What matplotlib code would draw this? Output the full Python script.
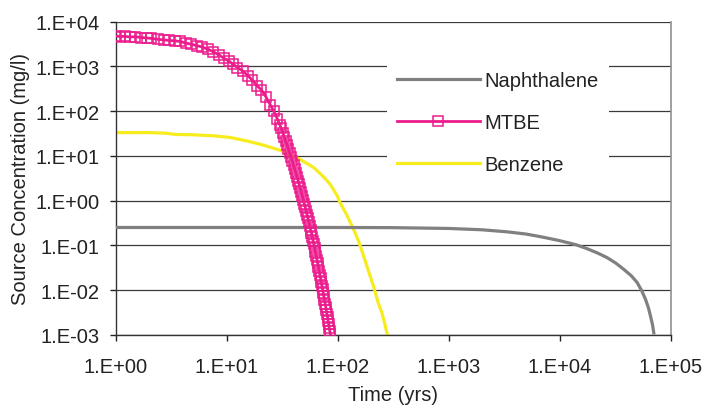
import numpy as np
import matplotlib as mpl
import matplotlib.pyplot as plt
from matplotlib.ticker import FixedLocator, FuncFormatter, NullLocator

# values (time in years, concentration in mg/l)
naph_t = [1, 10, 100, 300, 1000, 2000, 3357, 5000, 6700, 10000, 14000,
          17660, 22000, 26740, 32000, 37760, 44000, 49900, 55000, 59300,
          63000, 65800, 68500, 70450]
naph_c = [0.25, 0.25, 0.25, 0.248, 0.238, 0.222, 0.20, 0.178, 0.156,
          0.127, 0.103, 0.084, 0.067, 0.053, 0.040, 0.029, 0.021, 0.0147,
          0.0095, 0.0062, 0.0040, 0.0026, 0.0017, 0.0011]

mtbe_t = [1.0, 1.1, 1.2, 1.35, 1.5, 1.7, 1.9, 2.1, 2.4, 2.7, 3.0, 3.4,
          3.8, 4.3, 4.8, 5.4, 6.0, 6.8, 7.6, 8.5, 9.5, 10.5, 11.5, 12.5,
          14, 15.5, 17, 18.7, 20.5, 22.5, 24.6, 26.5, 28.5,
          30, 31, 32, 33, 34, 35, 36, 37, 38, 39, 40, 41, 42, 43, 44, 45,
          46, 47, 48, 49, 50, 51, 52, 53, 54, 55, 56, 57, 58, 59, 60, 61,
          62, 63, 64, 65, 66, 67, 68, 69, 70, 71, 72, 73, 74, 75, 76, 77,
          78, 79, 80, 81, 82, 83, 84, 85, 86]
mtbe_c = [4800, 4600, 4700, 4500, 4600, 4400, 4300, 4200, 4000, 3900,
          3800, 3700, 3600, 3300, 3100, 2900, 2700, 2400, 2100, 1800,
          1500, 1300, 1100, 940, 780, 620, 490, 370, 300, 210, 140, 100,
          68,
          50, 41, 33, 26, 21, 17.4, 14.1, 11.5, 9.3, 7.6, 6.2, 5.0, 4.2,
          3.4, 2.8, 2.3, 1.86, 1.55, 1.26, 1.05, 0.85, 0.71, 0.59, 0.48,
          0.40, 0.33, 0.27, 0.22, 0.19, 0.15, 0.126, 0.105, 0.085, 0.071,
          0.059, 0.048, 0.040, 0.033, 0.027, 0.022, 0.019, 0.015, 0.0126,
          0.0105, 0.0087, 0.0072, 0.006, 0.005, 0.0042, 0.0035, 0.0029,
          0.0025, 0.0020, 0.0017, 0.0014, 0.0012, 0.00102]

benz_t = [1, 2, 2.8, 3.5, 5, 7.6, 10.7, 15.2, 21.4, 30.3, 42.8, 50, 60.6,
          69.5, 78, 85.6, 98.6, 105, 120, 139, 155, 171, 190, 210, 230,
          250, 265, 280]
benz_c = [33, 33, 32, 30, 29.5, 28, 25.7, 21.5, 17.3, 13.3, 9.1, 7.3,
          5.5, 4.0, 3.0, 2.3, 1.3, 0.9, 0.49, 0.228, 0.12, 0.058, 0.026,
          0.0123, 0.0055, 0.0031, 0.0018, 0.001]

x_decades = [0, 1, 2, 3, 4, 5]
y_decades = [-3, -2, -1, 0, 1, 2, 3, 4]

plt.rcParams['font.family'] = ['Liberation Sans', 'DejaVu Sans']
txt_color = '#222222'

fig = plt.figure(figsize=(7.06, 4.10), dpi=100)
ax = fig.add_axes([0.1639, 0.181, 0.7861, 0.764])

ax.plot(benz_t, benz_c, color='#F7EC1E', lw=2.3, zorder=2,
        label='Benzene')
ax.plot(naph_t, naph_c, color='#808080', lw=2.3, zorder=3,
        label='Naphthalene')
ax.plot(mtbe_t, mtbe_c, color='#EC1C8C', lw=2.0, marker='s', ms=7.2,
        mfc='none', mec='#EC1C8C', mew=1.1, zorder=4, label='MTBE')

ax.set_xscale('log')
ax.set_yscale('log')
ax.set_xlim(1, 1e5)
ax.set_ylim(1e-3, 1e4)


def sci_fmt(v, pos):
    e = int(round(np.log10(v)))
    return f"1.E{e:+03d}"


ax.xaxis.set_major_locator(FixedLocator([10.0 ** d for d in x_decades]))
ax.yaxis.set_major_locator(FixedLocator([10.0 ** d for d in y_decades]))
ax.xaxis.set_minor_locator(NullLocator())
ax.yaxis.set_minor_locator(NullLocator())
ax.xaxis.set_major_formatter(FuncFormatter(sci_fmt))
ax.yaxis.set_major_formatter(FuncFormatter(sci_fmt))

ax.tick_params(axis='both', labelsize=14.5, colors=txt_color,
               direction='out', length=4.5, width=1.0)
ax.tick_params(axis='x', pad=11.5)
ax.tick_params(axis='y', pad=7)

ax.yaxis.grid(True, color='#3a3a3a', lw=0.9)
ax.set_axisbelow(True)

ax.spines['top'].set_visible(False)
ax.spines['right'].set_color('#909090')
ax.spines['right'].set_linewidth(1.2)
for s in ['left', 'bottom']:
    ax.spines[s].set_color('#333333')
    ax.spines[s].set_linewidth(1.0)

ax.set_xlabel('Time (yrs)', fontsize=14.5, color=txt_color, labelpad=6.5)
ax.set_ylabel('Source Concentration (mg/l)', fontsize=14.5,
              color=txt_color, labelpad=3.7)

handles, labels = ax.get_legend_handles_labels()
order = [1, 2, 0]
leg = ax.legend([handles[i] for i in order], [labels[i] for i in order],
                loc='center', bbox_to_anchor=(498 / 706, 1 - 123.7 / 410),
                bbox_transform=fig.transFigure, fontsize=14.5,
                frameon=True, facecolor='white', edgecolor='none',
                framealpha=1.0, fancybox=False, handlelength=4.1,
                handletextpad=0.25, labelspacing=1.15, borderpad=0.5,
                markerscale=1.0)
for t in leg.get_texts():
    t.set_color(txt_color)
leg.set_zorder(5)

fig.savefig('out.png', dpi=100)
